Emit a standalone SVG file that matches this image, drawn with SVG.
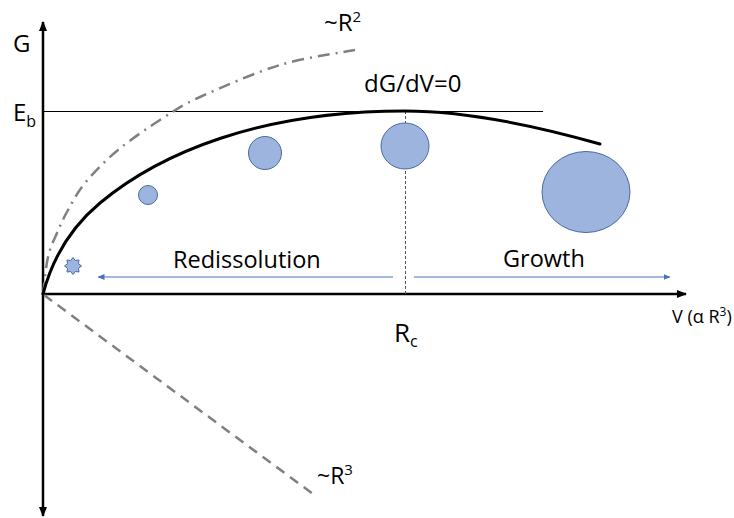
<svg xmlns="http://www.w3.org/2000/svg" width="734" height="518" viewBox="0 0 734 518">
<style>
  text { font-family: "Open Sans", "Liberation Sans", sans-serif; fill: #000; }
  .axis { stroke: #000; stroke-width: 2.5; fill: none; }
  .curve { stroke: #000; stroke-width: 3; fill: none; stroke-linecap: round; }
  .guide { stroke: #808080; stroke-width: 2.5; fill: none; }
  .dashdot { stroke-dasharray: 12 6 2 6; }
  .dash { stroke-dasharray: 10 7; }
  .blue { stroke: #4472c4; stroke-width: 1.2; fill: none; }
  .nuc { fill: #9db4de; stroke: #4a6aa0; stroke-width: 1; }
</style>
<defs>
  <marker id="ah" markerWidth="10" markerHeight="8" refX="9" refY="4" orient="auto" markerUnits="userSpaceOnUse">
    <path d="M0,0 L10,4 L0,8 Z" fill="#000"/>
  </marker>
  <marker id="bh" markerWidth="7" markerHeight="6" refX="6.5" refY="3" orient="auto" markerUnits="userSpaceOnUse">
    <path d="M0,0 L7,3 L0,6 Z" fill="#4472c4"/>
  </marker>
</defs>
<rect width="734" height="518" fill="#fff"/>

<g id="connectors">
  <line class="axis" x1="43" y1="294" x2="43" y2="22" marker-end="url(#ah)"/>
  <line class="axis" x1="43" y1="294" x2="43" y2="516" marker-end="url(#ah)"/>
  <line class="axis" x1="43" y1="294" x2="686" y2="294" marker-end="url(#ah)"/>
  <line x1="43" y1="111.5" x2="543" y2="111.5" stroke="#000" stroke-width="1"/>
  <line x1="405.5" y1="111" x2="405.5" y2="294" stroke="#555" stroke-width="1" stroke-dasharray="3 2"/>
  <path class="guide dashdot" d="M43,294 C43.8,287.8 45.7,267.2 48,257 C50.3,246.8 53.7,240.8 57,233 C60.3,225.2 63.3,218.3 68,210 C72.7,201.7 76.7,193 85,183 C93.3,173 105,160.8 118,150 C131,139.2 149.3,126.8 163,118 C176.7,109.2 180.5,105.8 200,97 C219.5,88.2 254.2,72.8 280,65 C305.8,57.2 342.5,52.5 355,50"/>
  <line class="guide dash" x1="44" y1="295" x2="313" y2="494"/>
  <path class="curve" d="M43,294 C52,260 70,228 100,203 C160,153 260,111 405,111 C470,111 540,127 600,144"/>
  <line class="blue" x1="393" y1="277" x2="98" y2="277" marker-end="url(#bh)"/>
  <line class="blue" x1="414" y1="277" x2="670" y2="277" marker-end="url(#bh)"/>
</g>

<g id="nucleus-star">
  <polygon class="nuc" points="73,257.5 75.3,260.5 79,260 78.5,263.7 81.5,266 78.5,268.3 79,272 75.3,271.5 73,274.5 70.7,271.5 67,272 67.5,268.3 64.5,266 67.5,263.7 67,260 70.7,260.5"/>
</g>
<g id="nucleus-1"><circle class="nuc" cx="148" cy="195" r="9.5"/></g>
<g id="nucleus-2"><circle class="nuc" cx="265" cy="153" r="16.5"/></g>
<g id="nucleus-critical"><ellipse class="nuc" cx="405" cy="146" rx="24" ry="23"/></g>
<g id="nucleus-large"><ellipse class="nuc" cx="586" cy="192" rx="44" ry="40.5"/></g>

<g id="labels">
  <text x="13" y="52" font-size="24">G</text>
  <text x="13" y="121" font-size="24">E<tspan font-size="16" dy="6">b</tspan></text>
  <text x="324" y="31" font-size="24">~R<tspan font-size="15" dy="-9">2</tspan></text>
  <text x="364" y="92" font-size="24">dG/dV=0</text>
  <text x="173" y="268" font-size="23.5">Redissolution</text>
  <text x="503" y="267" font-size="23.5">Growth</text>
  <text x="394" y="342" font-size="26">R<tspan font-size="16" dy="5">c</tspan></text>
  <text x="672" y="323" font-size="18">V (α R<tspan font-size="12" dy="-7">3</tspan><tspan dy="7">)</tspan></text>
  <text x="317" y="484" font-size="23">~R<tspan font-size="15" dy="-9">3</tspan></text>
</g>
</svg>
